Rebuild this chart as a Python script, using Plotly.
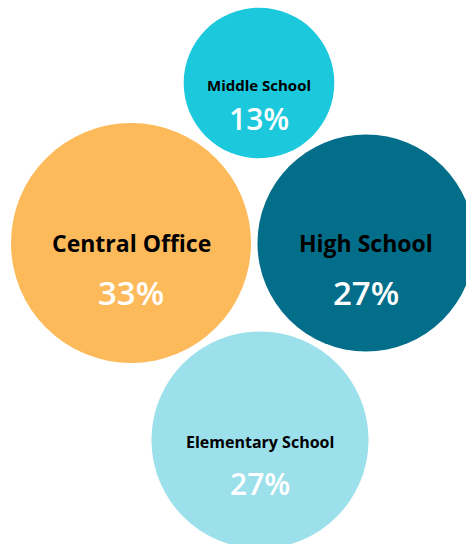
import math
import plotly.graph_objects as go

# ---- data ----
categories = ["Middle School", "Central Office", "High School", "Elementary School"]
shares = [13, 33, 27, 27]  # percent

# ---- layout / style (not data) ----
centers_x = [259, 131, 366, 260]
centers_y = [83, 243, 243, 440]
colors = ["#1CC8DC", "#FDBA5A", "#036E8A", "#9CE0EC"]
label_sizes = [15, 23, 23, 16]
pct_sizes = [30, 33, 33, 30]
label_dy = [2, 0, 0, 2]
pct_dy = [35, 49, 49, 43]
W, H = 466, 544
k = 120 / math.sqrt(33)  # px radius per sqrt(percent)

diam = [2 * k * math.sqrt(v) for v in shares]

fig = go.Figure()
fig.add_trace(go.Scatter(
    x=centers_x, y=centers_y, mode="markers",
    marker=dict(size=diam, sizemode="diameter", color=colors, opacity=1,
                line=dict(width=0)),
    hoverinfo="text", text=[f"{c}: {v}%" for c, v in zip(categories, shares)],
    cliponaxis=True,
))

annotations = []
for i, (c, v) in enumerate(zip(categories, shares)):
    annotations.append(dict(
        x=centers_x[i], y=centers_y[i] + label_dy[i], xref="x", yref="y",
        text=c, showarrow=False,
        font=dict(family="Open Sans", size=label_sizes[i], color="#000000", weight=700),
    ))
    annotations.append(dict(
        x=centers_x[i], y=centers_y[i] + pct_dy[i], xref="x", yref="y",
        text=f"{v}%", showarrow=False,
        font=dict(family="Open Sans", size=pct_sizes[i], color="#FFFFFF", weight=600),
    ))

fig.update_layout(
    width=W, height=H,
    margin=dict(l=0, r=0, t=0, b=0),
    paper_bgcolor="white", plot_bgcolor="white",
    showlegend=False,
    xaxis=dict(range=[0, W], visible=False, fixedrange=True),
    yaxis=dict(range=[H, 0], visible=False, fixedrange=True),
    annotations=annotations,
)

fig.write_html("out.html", config={"displayModeBar": False})
